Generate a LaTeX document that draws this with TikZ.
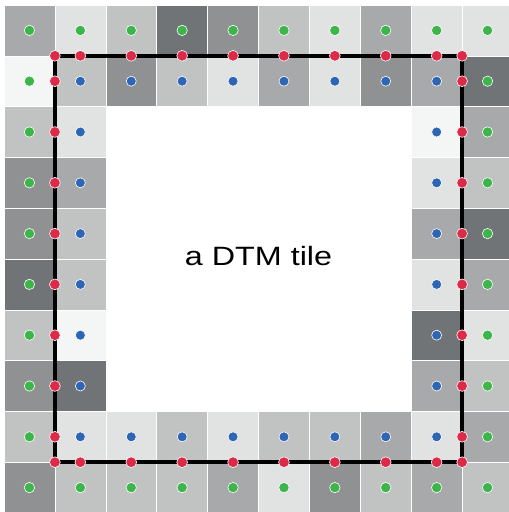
\documentclass[tikz,border=0pt]{standalone}
\usepackage{fontspec}
\setmainfont{Liberation Sans}
\definecolor{ca}{HTML}{F4F5F5}
\definecolor{cb}{HTML}{E1E2E2}
\definecolor{cc}{HTML}{C1C2C2}
\definecolor{cd}{HTML}{A7A9AA}
\definecolor{ce}{HTML}{8F9192}
\definecolor{cf}{HTML}{717476}
\definecolor{cw}{HTML}{FFFFFF}
\definecolor{dotgreen}{HTML}{3DB54A}
\definecolor{dotblue}{HTML}{2E66B5}
\definecolor{dotred}{HTML}{DD2A48}
\tikzset{
  cellbox/.style={draw=white, line width=0.6pt},
  gdot/.style={fill=dotgreen, draw=white, line width=0.6pt},
  bdot/.style={fill=dotblue, draw=white, line width=0.6pt},
  rdot/.style={fill=dotred, draw=white, line width=0.6pt},
  tileline/.style={draw=black, line width=4pt},
}
\begin{document}
\begin{tikzpicture}[x=1pt,y=-1pt]
\useasboundingbox (0,0) rectangle (509,512);
\clip (0,0) rectangle (509,512);
\fill[white] (0,0) rectangle (509,512);
% cells
\foreach \r/\row in {
  0/{d,b,c,f,e,c,b,d,b,b},
  1/{a,c,e,c,b,d,b,e,d,f},
  2/{c,b,w,w,w,w,w,w,a,d},
  3/{e,d,w,w,w,w,w,w,b,c},
  4/{e,c,w,w,w,w,w,w,d,f},
  5/{f,c,w,w,w,w,w,w,b,d},
  6/{c,a,w,w,w,w,w,w,f,b},
  7/{e,f,w,w,w,w,w,w,d,c},
  8/{c,b,b,c,b,c,c,d,b,d},
  9/{e,c,c,c,d,b,e,c,d,c}} {
  \foreach \s [count=\c from 0] in \row {
    \filldraw[cellbox, fill=c\s] ({4+50.9*\c},{5+50.8*\r}) rectangle ++(50.9,50.8);
  }
}
\fill[white] ({4+50.9*2},{5+50.8*2}) rectangle ({4+50.9*8},{5+50.8*8});
% green dots (outer ring)
\foreach \c in {0,...,9} {
  \draw[gdot] ({29.45+50.9*\c},{30.4}) circle (5.2);
  \draw[gdot] ({29.45+50.9*\c},{30.4+50.8*9}) circle (5.2);
}
\foreach \r in {1,...,8} {
  \draw[gdot] ({29.45},{30.4+50.8*\r}) circle (5.2);
  \draw[gdot] ({29.45+50.9*9},{30.4+50.8*\r}) circle (5.2);
}
% blue dots (second ring)
\foreach \c in {1,...,8} {
  \draw[bdot] ({29.45+50.9*\c},{30.4+50.8}) circle (5);
  \draw[bdot] ({29.45+50.9*\c},{30.4+50.8*8}) circle (5);
}
\foreach \r in {2,...,7} {
  \draw[bdot] ({29.45+50.9},{30.4+50.8*\r}) circle (5);
  \draw[bdot] ({29.45+50.9*8},{30.4+50.8*\r}) circle (5);
}
% tile boundary
\coordinate (tl) at ({4+50.9},{5+50.8});
\coordinate (br) at ({4+50.9*9},{5+50.8*9});
\draw[tileline] (tl) rectangle (br);
% red dots
\foreach \k in {1,...,8} {
  \draw[rdot] ({29.45+50.9*\k},{5+50.8}) circle (5.4);
  \draw[rdot] ({29.45+50.9*\k},{5+50.8*9}) circle (5.4);
  \draw[rdot] ({4+50.9},{30.4+50.8*\k}) circle (5.4);
  \draw[rdot] ({4+50.9*9},{30.4+50.8*\k}) circle (5.4);
}
\foreach \i in {1,9} {
  \foreach \j in {1,9} {
    \draw[rdot] ({4+50.9*\i},{5+50.8*\j}) circle (5.4);
  }
}
\node (title) at (258.5,256) {\fontsize{26.5}{26.5}\selectfont\scalebox{1.22}[1]{a DTM tile}};
\end{tikzpicture}
\end{document}
